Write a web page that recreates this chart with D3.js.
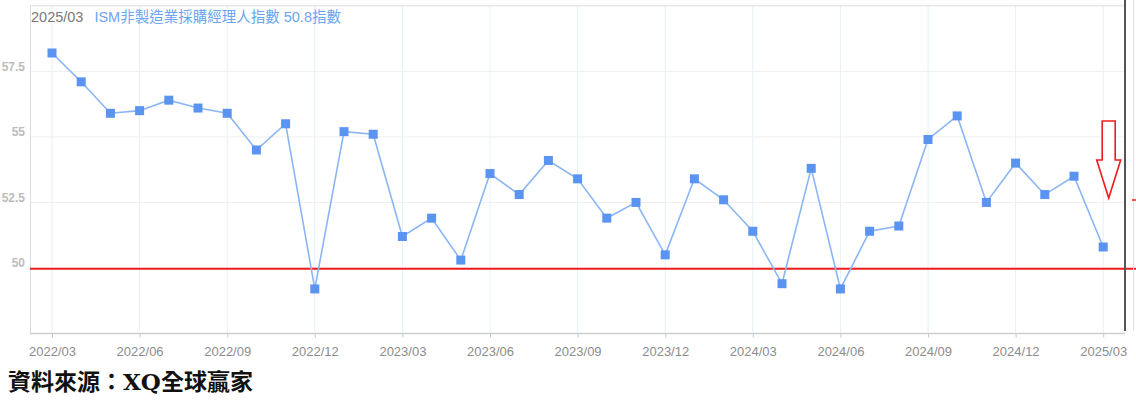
<!DOCTYPE html>
<html>
<head>
<meta charset="utf-8">
<script src="https://cdn.jsdelivr.net/npm/d3@7"></script>
<style>
  body { margin: 0; background: #fff; }
  svg { display: block; }
</style>
</head>
<body>
<svg id="chart" width="1136" height="410"></svg>
<script>
// monthly ISM non-manufacturing PMI, 2022/03 .. 2025/03
let months = [
  "2022/03","2022/04","2022/05","2022/06","2022/07","2022/08","2022/09","2022/10","2022/11","2022/12",
  "2023/01","2023/02","2023/03","2023/04","2023/05","2023/06","2023/07","2023/08","2023/09","2023/10","2023/11","2023/12",
  "2024/01","2024/02","2024/03","2024/04","2024/05","2024/06","2024/07","2024/08","2024/09","2024/10","2024/11","2024/12",
  "2025/01","2025/02","2025/03"
]
let pmi = [
  58.2, 57.1, 55.9, 56.0, 56.4, 56.1, 55.9, 54.5, 55.5, 49.2,
  55.2, 55.1, 51.2, 51.9, 50.3, 53.6, 52.8, 54.1, 53.4, 51.9, 52.5, 50.5,
  53.4, 52.6, 51.4, 49.4, 53.8, 49.2, 51.4, 51.6, 54.9, 55.8, 52.5, 54.0,
  52.8, 53.5, 50.8
]
let x_ticks = ["2022/03","2022/06","2022/09","2022/12","2023/03","2023/06","2023/09","2023/12",
               "2024/03","2024/06","2024/09","2024/12","2025/03"]
let y_ticks = [50, 52.5, 55, 57.5]
let y_grid = [50, 52.5, 55, 57.5, 60]
let threshold = 50

let width = 1136,
    height = 410,
    plot = {left: 30, right: 1125, top: 6, bottom: 333.5}

let svg = d3.select("#chart")

let x = d3.scalePoint()
  .domain(months)
  .range([52, 1103.2])

let y = d3.scaleLinear()
  .domain([47.5, 60])
  .range([plot.bottom, 5.8])

// grid
let grid = svg.append("g")
grid.selectAll("line.v")
  .data(x_ticks).enter()
  .append("line")
  .attr("x1", d => x(d)).attr("x2", d => x(d))
  .attr("y1", plot.top).attr("y2", plot.bottom)
  .attr("stroke", "#e4f1fb")
  .attr("stroke-width", 1)

grid.selectAll("line.h")
  .data(y_grid).enter()
  .append("line")
  .attr("x1", plot.left).attr("x2", plot.right)
  .attr("y1", d => y(d)).attr("y2", d => y(d))
  .attr("stroke", d => d == 60 ? "#dedede" : "#efefef")
  .attr("stroke-width", 1)

// left frame line
svg.append("line")
  .attr("x1", plot.left + 0.5).attr("x2", plot.left + 0.5)
  .attr("y1", plot.top).attr("y2", plot.bottom)
  .attr("stroke", "#dcdcdc")

// x axis
let x_axis = d3.axisBottom(x)
  .tickValues(x_ticks)
  .tickSize(4)
  .tickPadding(6)

let xg = svg.append("g")
  .attr("transform", `translate(0,${plot.bottom})`)
  .call(x_axis)
xg.select(".domain").remove()
xg.selectAll(".tick line").attr("stroke", "#c8c8c8")
xg.selectAll(".tick text")
  .attr("fill", "#8c8c8c")
  .attr("font-family", "Liberation Sans, Arial, sans-serif")
  .attr("font-size", 13)
  .attr("dy", "0.95em")
svg.append("line")
  .attr("x1", plot.left).attr("x2", plot.right)
  .attr("y1", plot.bottom).attr("y2", plot.bottom)
  .attr("stroke", "#cfcfcf")
  .attr("stroke-width", 1.5)

// y labels
svg.append("g")
  .selectAll("text")
  .data(y_ticks).enter()
  .append("text")
  .attr("x", 25)
  .attr("y", d => y(d) - 5)
  .attr("dy", "0.35em")
  .attr("text-anchor", "end")
  .attr("fill", "#bdbdbd")
  .attr("font-family", "Liberation Sans, Arial, sans-serif")
  .attr("font-weight", "bold")
  .attr("font-size", 12)
  .text(d => d)

// red 50 line
svg.append("line")
  .attr("x1", plot.left).attr("x2", width)
  .attr("y1", y(threshold) + 0.8).attr("y2", y(threshold) + 0.8)
  .attr("stroke", "#ee1c1c")
  .attr("stroke-width", 2.2)

// series line
let line = d3.line()
  .x((d, i) => x(months[i]))
  .y(d => y(d))

svg.append("path")
  .datum(pmi)
  .attr("d", line)
  .attr("fill", "none")
  .attr("stroke", "#8ab6f6")
  .attr("stroke-width", 1.6)

svg.append("g")
  .selectAll("rect")
  .data(pmi).enter()
  .append("rect")
  .attr("x", (d, i) => x(months[i]) - 4.5)
  .attr("y", d => y(d) - 4.5)
  .attr("width", 9)
  .attr("height", 9)
  .attr("fill", "#5b93f1")

// header
let header = svg.append("text")
  .attr("x", 31)
  .attr("y", 22)
  .attr("font-family", "Liberation Sans, Arial, 'Noto Sans CJK TC', sans-serif")
  .attr("font-size", 14.5)
header.append("tspan").attr("fill", "#7a7a7a").text(months[months.length - 1])
header.append("tspan").attr("fill", "#6aa5f3").attr("dx", 11)
  .text("ISM非製造業採購經理人指數 " + pmi[pmi.length - 1] + "指數")

// right edge lines
svg.append("line")
  .attr("x1", 1125).attr("x2", 1125)
  .attr("y1", 0).attr("y2", 331)
  .attr("stroke", "#555")
  .attr("stroke-width", 2)
svg.append("line")
  .attr("x1", 1133.5).attr("x2", 1133.5)
  .attr("y1", 0).attr("y2", 331)
  .attr("stroke", "#e2e2e2")
svg.append("line")
  .attr("x1", 1132).attr("x2", 1136)
  .attr("y1", 200).attr("y2", 200)
  .attr("stroke", "#ee1c1c")
  .attr("stroke-width", 1.5)

// down arrow annotation
let ax = x(months[months.length - 1]) + 5.5
let arrow = [
  [ax - 6.5, 121], [ax + 6.5, 121], [ax + 6.5, 160], [ax + 12, 160],
  [ax, 198], [ax - 12, 160], [ax - 6.5, 160]
]
svg.append("path")
  .attr("d", d3.line()(arrow) + "Z")
  .attr("fill", "#fff")
  .attr("stroke", "#ee1c1c")
  .attr("stroke-width", 1.6)

// source
svg.append("text")
  .attr("x", 8)
  .attr("y", 390)
  .attr("font-family", "'DejaVu Serif', 'Noto Sans CJK TC', serif")
  .attr("font-weight", "bold")
  .attr("font-size", 23)
  .attr("fill", "#111")
  .text("資料來源：XQ全球贏家")
</script>
</body>
</html>
